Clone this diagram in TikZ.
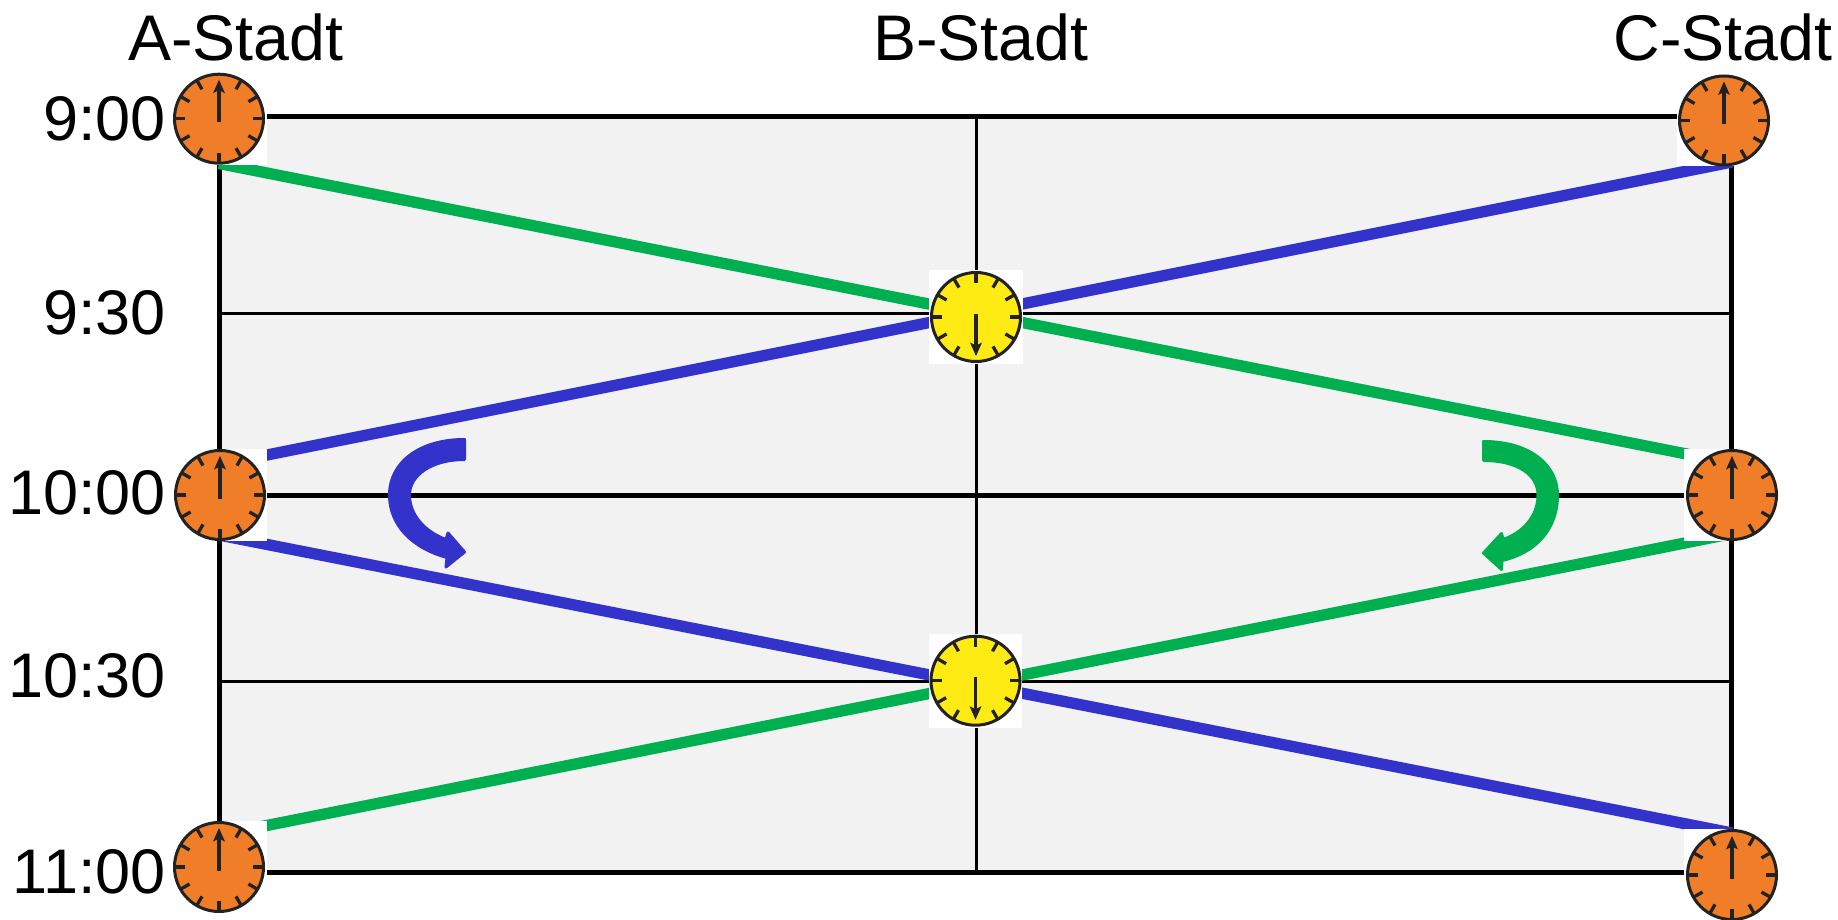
\documentclass[tikz,border=0pt]{standalone}
\usepackage{fontspec}
\setmainfont{Liberation Sans}
\definecolor{gridbg}{HTML}{F2F2F2}
\definecolor{clockorange}{HTML}{F07D28}
\definecolor{clockyellow}{HTML}{FFEB14}
\definecolor{routeblue}{HTML}{3333CC}
\definecolor{routegreen}{HTML}{00B050}
\definecolor{clockink}{HTML}{222222}
\tikzset{
  citytext/.style={inner sep=0pt,font=\fontsize{64.5}{70}\selectfont,text=black},
  timetext/.style={inner sep=0pt,font=\fontsize{63}{70}\selectfont,text=black},
  heavy/.style={draw=black,line width=5pt},
  light/.style={draw=black,line width=3pt},
  route/.style={line width=11.3pt},
  whitesq/.style={fill=white,draw=none,inner sep=0pt,shape=rectangle},
  face/.style={circle,draw=clockink,line width=3pt,minimum size=89pt,inner sep=0pt},
  tick/.style={draw=clockink,line width=3.3pt},
  hand/.style={draw=clockink,line width=3.6pt},
  headfill/.style={fill=clockink,draw=none},
  turnarrow/.style={line width=3pt,line join=round},
}
% name, x, y, colour, +1 = hand up / -1 = hand down, backing width, backing height
\newcommand\clockdial[7]{%
  \node[whitesq,minimum width=#6pt,minimum height=#7pt] (#1sq) at (#2,#3) {};
  \node[face,fill=#4] (#1) at (#2,#3) {};
  \begin{scope}[shift={(#1.center)}]
    \pgfmathtruncatemacro{\skipangle}{180+90*#5}
    \foreach \a in {0,30,...,330}{
      \ifnum\a=\skipangle\relax\else
        \draw[tick] (\a:34) -- (\a:44.5);
      \fi
    }
    \draw[hand] (0,{3.5*#5}) -- (0,{-30*#5});
    \fill[headfill] (0,{-39*#5}) -- (6,{-25.5*#5}) -- (0,{-28.5*#5}) -- (-6,{-25.5*#5}) -- cycle;
  \end{scope}
}
\begin{document}
\begin{tikzpicture}[x=1pt,y=-1pt]
\useasboundingbox (0,0) rectangle (1838,920);
% route end points
\coordinate (g1a) at (219,163.5);
\coordinate (g1c) at (1732,463);
\coordinate (b1a) at (219,464.6);
\coordinate (b1c) at (1732,162);
\coordinate (b2a) at (219,535);
\coordinate (b2c) at (1732,833);
\coordinate (g2c) at (1732,533.6);
\coordinate (g2a) at (219,835);
% grid
\coordinate (tl) at (219.5,117);
\coordinate (tr) at (1731.5,117);
\coordinate (bl) at (219.5,872.5);
\coordinate (br) at (1731.5,872.5);
\coordinate (ml) at (219.5,495);
\coordinate (mr) at (1731.5,495);
\coordinate (hl) at (219.5,313);
\coordinate (hr) at (1731.5,313);
\coordinate (kl) at (219.5,681);
\coordinate (kr) at (1731.5,681);
\coordinate (vt) at (976,117);
\coordinate (vb) at (976,872.5);
\fill[gridbg] (tl) rectangle (br);
\draw[light] (hl) -- (hr);
\draw[light] (kl) -- (kr);
\draw[light] (vt) -- (vb);
\draw[heavy] (ml) -- (mr);
\draw[heavy,line join=miter] (tl) -- (tr) -- (br) -- (bl) -- cycle;
% routes
\draw[route,routegreen] (g1a) -- (g1c);
\draw[route,routeblue] (b1a) -- (b1c);
\draw[route,routeblue] (b2a) -- (b2c);
\draw[route,routegreen] (g2a) -- (g2c);
% curved arrows
\filldraw[turnarrow,fill=routeblue,draw=routeblue]
  (464.5,439.5) .. controls (420,439.5) and (389.5,462) .. (389.5,495)
  .. controls (389.5,525) and (412,548) .. (447,557.5)
  -- (446,567) -- (464.5,552) -- (448,533) -- (446,539.5)
  .. controls (425,532) and (409.5,515) .. (409.5,495)
  .. controls (409.5,475) and (432,459.5) .. (464.5,459.5) -- cycle;
\filldraw[turnarrow,fill=routegreen,draw=routegreen]
  (1483.5,441.5) .. controls (1530,441.5) and (1557.5,465) .. (1557.5,495)
  .. controls (1557.5,530) and (1535,553) .. (1502,560.5)
  -- (1501.5,569.5) -- (1483.5,553) -- (1501.5,533.5) -- (1503,539.5)
  .. controls (1522,533) and (1538,517) .. (1538,495)
  .. controls (1538,475) and (1518,460.5) .. (1483.5,460.5) -- cycle;
% clocks
\clockdial{a9}{219}{118.7}{clockorange}{1}{96}{92}
\clockdial{a10}{220}{495}{clockorange}{1}{94}{92}
\clockdial{a11}{219}{867}{clockorange}{1}{96}{92}
\clockdial{b930}{976}{317}{clockyellow}{-1}{94}{94}
\clockdial{b1030}{975.5}{680.7}{clockyellow}{-1}{93}{94}
\clockdial{c9}{1724}{120.5}{clockorange}{1}{94}{92}
\clockdial{c10}{1732}{495}{clockorange}{1}{96}{92}
\clockdial{c11}{1732}{875}{clockorange}{1}{96}{92}
% labels
\node[citytext,anchor=base] (la) at (236,61) {A-Stadt};
\node[citytext,anchor=base] (lb) at (981,61) {B-Stadt};
\node[citytext,anchor=base] (lc) at (1723,61) {C-Stadt};
\node[timetext,anchor=base east] (t1) at (166,141) {9:00};
\node[timetext,anchor=base east] (t2) at (166,334) {9:30};
\node[timetext,anchor=base east] (t3) at (166,514) {10:00};
\node[timetext,anchor=base east] (t4) at (166,697) {10:30};
\node[timetext,anchor=base east] (t5) at (166,893) {11:00};
\end{tikzpicture}
\end{document}
